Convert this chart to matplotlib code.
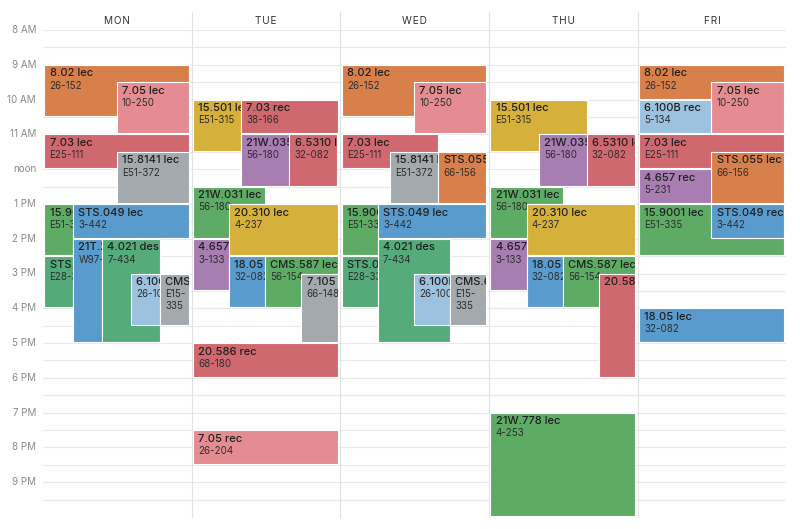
import matplotlib.pyplot as plt
from matplotlib.patches import Rectangle

plt.rcParams["font.family"] = ["Inter", "DejaVu Sans"]

days = ["MON", "TUE", "WED", "THU", "FRI"]
hours = list(range(8, 22))
hour_labels = ["8 AM", "9 AM", "10 AM", "11 AM", "noon", "1 PM", "2 PM",
               "3 PM", "4 PM", "5 PM", "6 PM", "7 PM", "8 PM", "9 PM"]

# one entry per class meeting: day index, start / end hour, title, room
ev_day = [0, 0, 0, 0, 0, 0, 0, 0, 0, 0, 0,
          1, 1, 1, 1, 1, 1, 1, 1, 1, 1, 1, 1,
          2, 2, 2, 2, 2, 2, 2, 2, 2, 2, 2,
          3, 3, 3, 3, 3, 3, 3, 3, 3, 3,
          4, 4, 4, 4, 4, 4, 4, 4, 4]
ev_start = [9, 9.5, 11, 11.5, 13, 13, 14.5, 14, 14, 15, 15,
            10, 10, 11, 11, 12.5, 13, 14, 14.5, 14.5, 15, 17, 19.5,
            9, 9.5, 11, 11.5, 11.5, 13, 13, 14.5, 14, 15, 15,
            10, 11, 11, 12.5, 13, 14, 14.5, 14.5, 15, 19,
            9, 9.5, 10, 11, 11.5, 12, 13, 13, 16]
ev_end = [10.5, 11, 12, 13, 14.5, 14, 16, 17, 17, 16.5, 16.5,
          11.5, 11, 12.5, 12.5, 14, 14.5, 15.5, 16, 16, 17, 18, 20.5,
          10.5, 11, 12, 13, 13, 14.5, 14, 16, 17, 16.5, 16.5,
          11.5, 12.5, 12.5, 14, 14.5, 15.5, 16, 16, 18, 22,
          10, 11, 11, 12, 13, 13, 14.5, 14, 17]
ev_title = ["8.02 lec", "7.05 lec", "7.03 lec", "15.8141 lec", "15.9001 lec",
            "STS.049 lec", "STS.032 lec", "21T.231 lec", "4.021 des",
            "6.100B lec", "CMS.614 lec",
            "15.501 lec", "7.03 rec", "21W.035 lec", "6.5310 lec",
            "21W.031 lec", "20.310 lec", "4.657 lec", "18.05 lec",
            "CMS.587 lec", "7.105 lec", "20.586 rec", "7.05 rec",
            "8.02 lec", "7.05 lec", "7.03 lec", "15.8141 lec", "STS.055",
            "15.9001 lec", "STS.049 lec", "STS.032 lec", "4.021 des",
            "6.100B lec", "CMS.614 lec",
            "15.501 lec", "21W.035 lec", "6.5310 lec", "21W.031 lec",
            "20.310 lec", "4.657 lec", "18.05 lec", "CMS.587 lec",
            "20.586 rec", "21W.778 lec",
            "8.02 lec", "7.05 lec", "6.100B rec", "7.03 lec", "STS.055 lec",
            "4.657 rec", "15.9001 lec", "STS.049 rec", "18.05 lec"]
ev_room = ["26-152", "10-250", "E25-111", "E51-372", "E51-335", "3-442",
           "E28-333", "W97-361", "7-434", "26-100", "E15-\n335",
           "E51-315", "38-166", "56-180", "32-082", "56-180", "4-237",
           "3-133", "32-082", "56-154", "66-148", "68-180", "26-204",
           "26-152", "10-250", "E25-111", "E51-372", "66-156", "E51-335",
           "3-442", "E28-333", "7-434", "26-100", "E15-\n335",
           "E51-315", "56-180", "32-082", "56-180", "4-237", "3-133",
           "32-082", "56-154", "", "4-253",
           "26-152", "10-250", "5-134", "E25-111", "66-156", "5-231",
           "E51-335", "3-442", "32-082"]

# horizontal slot of each meeting inside its day column (fraction of width)
ev_left = [0, 0.5, 0, 0.5, 0, 0.2, 0, 0.2, 0.4, 0.6, 0.8,
           0, 1/3, 1/3, 2/3, 0, 0.25, 0, 0.25, 0.5, 0.75, 0, 0,
           0, 0.5, 0, 1/3, 2/3, 0, 0.25, 0, 0.25, 0.5, 0.75,
           0, 1/3, 2/3, 0, 0.25, 0, 0.25, 0.5, 0.75, 0,
           0, 0.5, 0, 0, 0.5, 0, 0, 0.5, 0]
ev_right = [1, 1, 1, 1, 0.2, 1, 0.2, 0.4, 0.8, 0.8, 1,
            1/3, 1, 2/3, 1, 0.5, 1, 0.25, 0.5, 1, 1, 1, 1,
            1, 1, 2/3, 2/3, 1, 0.25, 1, 0.25, 0.75, 0.75, 1,
            2/3, 2/3, 1, 0.5, 1, 0.25, 0.5, 1, 1, 1,
            1, 1, 0.5, 1, 1, 0.5, 1, 1, 1]

course_colors = {
    "8.02": "#d8804b", "7.05": "#e48c91", "7.03": "#d0686f",
    "15.8141": "#a3a9ac", "15.9001": "#5eab66", "STS.049": "#5a9bcd",
    "STS.032": "#55aa79", "21T.231": "#5a9bcd", "4.021": "#55ab7a",
    "6.100B": "#9cc2df", "CMS.614": "#a3a9ac", "15.501": "#d5b03b",
    "21W.035": "#a77db2", "6.5310": "#d0686f", "21W.031": "#5eab66",
    "20.310": "#d5b03b", "4.657": "#a77db2", "18.05": "#5a9bcd",
    "CMS.587": "#5eab66", "7.105": "#a3a9ac", "20.586": "#d0686f",
    "STS.055": "#d8804b", "21W.778": "#5eab66",
}

PX_DAY = 148.7   # pixels per day column
PX_HOUR = 34.77  # pixels per hour

fig = plt.figure(figsize=(8, 5.29), dpi=100)
ax = fig.add_axes([43 / 800, 12 / 529, 743.5 / 800, 487 / 529])
ax.set_xlim(0, 5)
ax.set_ylim(22, 8)
ax.axis("off")

# half-hour grid
for k in range(28):
    y = 8 + k * 0.5
    ax.plot([0, 5], [y, y], color="#e9e9e9", lw=0.8, zorder=0)
for d in range(1, 5):
    ax.plot([d, d], [8 - 18 / PX_HOUR, 22], color="#e2e2e2", lw=0.8,
            zorder=0, clip_on=False)

for h, lab in zip(hours, hour_labels):
    ax.text(-7 / PX_DAY, h, lab, ha="right", va="center", fontsize=7,
            color="#8a8a8a", clip_on=False)
for d, name in enumerate(days):
    ax.text(d + 0.5, 8 - 9 / PX_HOUR, "\u200a".join(name), ha="center",
            va="center", fontsize=7.2, color="#333333", clip_on=False)

for i in range(len(ev_day)):
    x0 = ev_day[i] + (1.3 + ev_left[i] * 144.5) / PX_DAY
    x1 = ev_day[i] + (1.3 + ev_right[i] * 144.5) / PX_DAY
    y0 = ev_start[i]
    y1 = ev_end[i] - 1 / PX_HOUR
    color = course_colors[ev_title[i].split()[0]]
    z = 2 + 2 * i
    box = Rectangle((x0, y0), x1 - x0, y1 - y0, facecolor=color,
                    edgecolor="white", lw=0.8, zorder=z)
    ax.add_patch(box)
    t1 = ax.annotate(ev_title[i], (x0, y0), xytext=(5.2, -8.7),
                     textcoords="offset pixels", ha="left", va="center",
                     fontsize=8, fontweight="medium", color="#1f1f1f",
                     zorder=z + 1)
    t2 = ax.annotate(ev_room[i], (x0, y0), xytext=(5.2, -15.8),
                     textcoords="offset pixels", ha="left", va="top",
                     fontsize=7, color="#2e2e2e", linespacing=1.25,
                     zorder=z + 1)
    t1.set_clip_path(box)
    t2.set_clip_path(box)

fig.savefig("out.png", dpi=100, facecolor="white")
